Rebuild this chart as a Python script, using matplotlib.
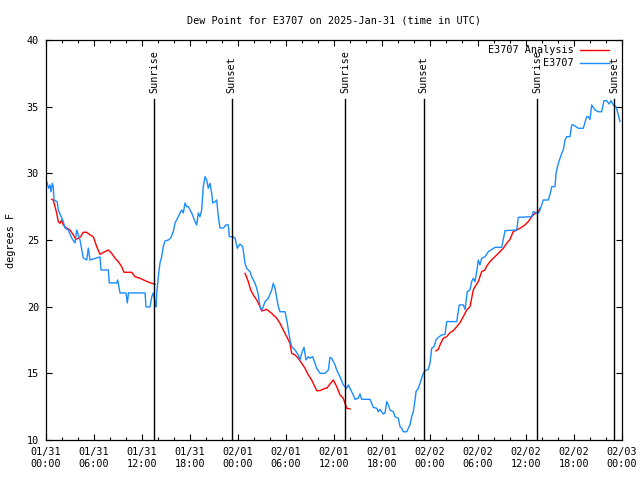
import numpy as np
import pandas as pd
import matplotlib
matplotlib.use('Agg')
import matplotlib.pyplot as plt
import matplotlib.dates as mdates
import matplotlib.transforms as mtransforms

# hours since 2025-01-31 00:00 UTC, dew point in degrees F
obs_hours = [0.09, 0.34, 0.5, 0.63, 0.79, 0.91, 1.0, 1.41, 1.54, 1.96, 2.16, 2.38, 2.79, 3.21,
             3.63, 3.84, 4.25, 4.66, 5.09, 5.29, 5.5, 6.34, 6.75, 6.88, 7.79, 7.91, 8.84, 8.96,
             9.25, 10.0, 10.16, 10.31, 11.75, 12.38, 12.5, 13.0, 13.21, 13.41, 13.63, 13.75,
             13.84, 14.04, 14.25, 14.46, 14.66, 14.88, 15.29, 15.59, 15.91, 16.13, 16.54,
             16.75, 16.96, 17.16, 17.38, 17.59, 17.79, 18.21, 18.63, 18.84, 19.04, 19.25,
             19.46, 19.66, 19.88, 20.09, 20.29, 20.5, 20.71, 20.84, 21.13, 21.34, 21.54,
             21.75, 22.16, 22.5, 22.79, 22.91, 23.34, 23.63, 23.91, 24.25, 24.59, 24.88,
             25.09, 25.5, 25.71, 26.13, 26.34, 26.54, 26.75, 26.96, 27.16, 27.38, 27.79,
             28.21, 28.41, 28.63, 29.04, 29.25, 29.88, 30.09, 30.29, 30.5, 30.71, 31.13,
             31.54, 31.75, 31.96, 32.25, 32.5, 32.79, 33.0, 33.34, 33.63, 33.84, 34.25,
             34.88, 35.29, 35.5, 35.71, 36.13, 36.34, 36.54, 36.75, 37.16, 37.38, 37.59,
             37.79, 38.0, 38.41, 38.63, 39.04, 39.25, 39.46, 40.5, 40.71, 40.91, 41.34,
             41.54, 41.75, 42.16, 42.38, 42.59, 42.79, 43.0, 43.41, 43.63, 44.04, 44.25,
             44.46, 44.66, 45.09, 45.29, 45.5, 45.71, 45.91, 46.13, 46.25, 46.54, 46.75,
             46.96, 47.16, 47.38, 47.79, 48.0, 48.21, 48.5, 48.75, 49.04, 49.46, 49.88,
             50.09, 51.34, 51.66, 52.16, 52.38, 52.66, 53.0, 53.21, 53.41, 53.63, 53.84,
             54.04, 54.25, 54.46, 54.88, 55.29, 55.5, 56.13, 56.96, 57.38, 58.84, 59.04,
             60.71, 60.91, 61.54, 61.75, 62.16, 62.79, 63.09, 63.21, 63.63, 63.75, 64.04,
             64.25, 64.46, 64.66, 64.88, 65.09, 65.5, 65.71, 65.91, 66.54, 67.16, 67.59,
             67.79, 68.0, 68.21, 68.63, 69.04, 69.46, 69.75, 70.09, 70.38, 70.63, 70.91,
             71.25, 71.54, 71.75]
obs_dewpt = [29.37, 28.88, 29.13, 28.62, 29.25, 29.0, 28.0, 27.87, 27.25, 26.65, 26.37, 25.9,
             25.75, 25.15, 24.78, 25.75, 25.0, 23.65, 23.5, 24.4, 23.5, 23.65, 23.73, 22.75,
             22.75, 21.78, 21.78, 22.0, 21.03, 21.03, 20.28, 21.03, 21.03, 21.03, 19.98, 19.98,
             20.73, 21.03, 20.28, 19.98, 21.03, 22.25, 23.28, 23.75, 24.5, 24.93, 25.0, 25.15,
             25.62, 26.28, 26.75, 27.03, 27.25, 27.03, 27.78, 27.5, 27.5, 27.03, 26.37, 26.13,
             27.03, 26.75, 27.25, 29.0, 29.75, 29.5, 28.88, 29.25, 28.5, 27.78, 27.87, 28.0,
             26.75, 25.9, 25.9, 26.13, 26.13, 25.25, 25.25, 25.15, 24.38, 24.7, 24.5, 23.25,
             22.88, 22.62, 22.25, 21.75, 21.38, 20.88, 20.0, 19.75, 20.0, 20.37, 20.63, 21.25,
             21.75, 21.38, 20.0, 19.62, 19.62, 19.0, 18.25, 17.5, 17.0, 16.75, 16.38, 16.0,
             16.5, 16.95, 16.0, 16.25, 16.13, 16.25, 15.75, 15.38, 15.0, 15.0, 15.25, 16.2,
             16.13, 15.63, 15.25, 15.0, 14.75, 14.13, 14.0, 13.88, 14.13, 13.88, 13.38, 13.05,
             13.13, 13.45, 13.05, 13.05, 12.75, 12.45, 12.38, 12.12, 12.3, 11.95, 12.03, 12.88,
             12.63, 12.25, 12.12, 11.75, 11.63, 11.0, 10.88, 10.62, 10.62, 10.88, 11.13, 11.75,
             12.12, 13.0, 13.63, 13.88, 14.25, 14.63, 15.0, 15.2, 15.3, 15.75, 16.88, 17.0,
             17.5, 17.7, 17.88, 17.93, 18.88, 18.88, 20.13, 20.13, 19.8, 21.13, 21.25, 21.88,
             22.13, 21.88, 22.63, 23.5, 23.13, 23.63, 23.75, 24.13, 24.2, 24.45, 24.45, 25.7,
             25.75, 26.7, 26.75, 27.13, 27.0, 27.25, 28.0, 28.0, 28.62, 29.0, 29.0, 30.0,
             30.75, 31.13, 31.5, 31.75, 32.5, 32.75, 32.75, 33.63, 33.63, 33.38, 33.38, 34.25,
             34.25, 34.05, 35.13, 34.75, 34.62, 34.62, 35.45, 35.45, 35.2, 35.45, 35.13, 35.0,
             34.38, 33.88]

# analysis series, NaN marks the gaps between runs
ana_hours = [0.71, 0.91, 1.13, 1.34, 1.54, 1.75, 1.96, 2.16, 2.38, 2.59, 3.0, 3.41, 3.75, 4.04,
             4.34, 4.66, 5.09, 5.5, 5.91, 6.34, 6.75, 7.38, 7.79, 8.21, 8.63, 9.04, 9.46, 9.75,
             10.71, 11.13, 11.75, 12.38, 13.0, 13.63, 18.0,
             24.88, 25.29, 25.59, 25.91, 26.34, 26.75, 26.96, 27.59, 28.21, 28.84, 29.25, 29.66,
             30.09, 30.5, 30.71, 31.13, 31.54, 31.96, 32.38, 32.79, 33.21, 33.84, 34.25, 34.88,
             35.09, 35.5, 35.91, 36.34, 36.75, 37.16, 37.38, 37.59, 38.0, 43.0,
             48.75, 49.04, 49.34, 49.66, 50.09, 50.5, 50.91, 51.34, 51.75, 52.16, 52.59, 53.0,
             53.21, 53.41, 53.63, 54.04, 54.46, 54.88, 55.09, 55.5, 55.91, 56.34, 56.75, 57.16,
             57.59, 58.0, 58.41, 58.84, 59.25, 59.88, 60.29, 60.71, 61.13, 61.54, 61.75]
ana_dewpt = [28.05, 28.0, 27.5, 27.0, 26.37, 26.25, 26.5, 26.13, 26.0, 25.88, 25.75, 25.38, 25.05,
             25.13, 25.25, 25.58, 25.58, 25.38, 25.25, 24.5, 23.93, 24.13, 24.25, 24.0, 23.63,
             23.38, 23.0, 22.58, 22.58, 22.25, 22.13, 21.95, 21.8, 21.68, np.nan,
             22.5, 21.88, 21.25, 20.88, 20.5, 20.0, 19.68, 19.8, 19.5, 19.13, 18.75, 18.25,
             17.75, 17.25, 16.5, 16.38, 16.13, 15.75, 15.38, 14.88, 14.5, 13.7, 13.7, 13.88,
             13.88, 14.2, 14.5, 14.0, 13.38, 13.13, 12.75, 12.38, 12.33, np.nan,
             16.68, 16.8, 17.25, 17.63, 17.75, 18.05, 18.2, 18.5, 18.8, 19.25, 19.75, 20.0,
             20.63, 21.25, 21.5, 21.88, 22.63, 22.75, 23.05, 23.38, 23.63, 23.88, 24.13, 24.38,
             24.75, 25.05, 25.63, 25.75, 25.88, 26.13, 26.38, 26.75, 27.0, 27.13, 27.38]

sun_hours = [13.55, 23.2, 37.4, 47.2, 61.4, 71.0]
sun_labels = ['Sunrise', 'Sunset', 'Sunrise', 'Sunset', 'Sunrise', 'Sunset']

base = pd.Timestamp('2025-01-31 00:00')
obs_time = base + pd.to_timedelta(obs_hours, unit='h')
ana_time = base + pd.to_timedelta(ana_hours, unit='h')
sun_time = base + pd.to_timedelta(sun_hours, unit='h')

plt.rcParams['font.family'] = ['DejaVu Sans Mono']
plt.rcParams['font.size'] = 7.3

fig = plt.figure(figsize=(6.4, 4.8), dpi=100)
ax = fig.add_axes([46 / 640, 40 / 480, 576 / 640, 400 / 480])

ax.plot(ana_time, ana_dewpt, color='#ff0000', lw=1.0, label='E3707 Analysis')
ax.plot(obs_time, obs_dewpt, color='#1a8cff', lw=1.0, label='E3707')

# sunrise / sunset markers
trans = mtransforms.blended_transform_factory(ax.transData, ax.transAxes)
for t, lab in zip(sun_time, sun_labels):
    ax.axvline(t, ymin=0, ymax=0.853, color='black', lw=1.0)
    ax.text(t, 0.867, lab, transform=trans, rotation=90, ha='center', va='bottom')

ax.set_xlim(base, base + pd.Timedelta(hours=72))
ax.set_ylim(10, 40)
ax.set_yticks([10, 15, 20, 25, 30, 35, 40])

ax.xaxis.set_major_locator(mdates.HourLocator(byhour=range(0, 24, 6)))
ax.xaxis.set_minor_locator(mdates.HourLocator(byhour=range(0, 24, 2)))
ax.xaxis.set_major_formatter(mdates.DateFormatter('%m/%d\n%H:%M'))

ax.tick_params(which='both', direction='in', top=True, right=True, width=0.8)
ax.tick_params(which='major', length=4, pad=5)
ax.tick_params(which='minor', length=2.2)
for sp in ax.spines.values():
    sp.set_linewidth(0.9)

ax.set_ylabel('degrees F', labelpad=8)
ax.set_title('Dew Point for E3707 on 2025-Jan-31 (time in UTC)', fontsize=7.3, pad=12)

ax.legend(loc='upper right', bbox_to_anchor=(1 - 8 / 576, 1), frameon=False,
          markerfirst=False, handlelength=2.9, handletextpad=0.6, labelspacing=0.3,
          borderaxespad=0.3, borderpad=0.2)

fig.savefig('out.png', dpi=100)
